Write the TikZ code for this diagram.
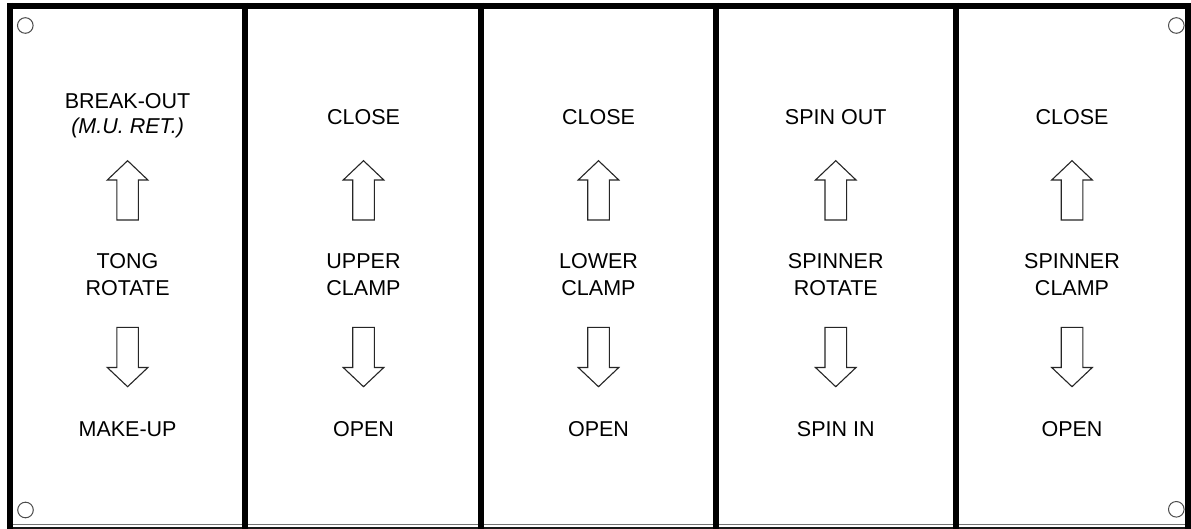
\documentclass[tikz,border=0pt]{standalone}
\usepackage{fontspec}
\setmainfont{Liberation Sans}
\begin{document}
\begin{tikzpicture}[x=1pt,y=-1pt,
  border/.style={line width=6pt,black},
  hole/.style={draw=black!70,line width=1pt},
  blockarrow/.style={draw=black!85,line width=1.1pt,line join=miter,fill=white},
  lbl/.style={font=\fontsize{21.5}{26.7}\selectfont,text=black,anchor=base,inner sep=0pt},
  baseline1/.style={draw=black!55,line width=1.6pt},
  baseline2/.style={draw=black!90,line width=1.8pt}]
\useasboundingbox (0,0) rectangle (1191,529);
\fill[white] (0,0) rectangle (1191,529);
% bottom edge lines
\draw[baseline1] (7.3,524.3) -- (1191,524.3);
\draw[baseline2] (7.3,527.8) -- (1191,527.8);
% frame and dividers
\draw[border] (7.3,6) -- (1191,6);
\foreach \x in {10.3,245,481,716,955.5,1188.3} {
  \draw[border] (\x,3) -- (\x,528.7);
}
% mounting holes
\draw[hole] (25.3,25.5) circle (7.8);
\draw[hole] (25.5,510) circle (7.8);
\draw[hole] (1176.3,25.5) circle (7.8);
\draw[hole] (1176.3,509.3) circle (7.8);
% arrows
\foreach \cx in {127.6,363.5,598.5,835.75,1072} {
  \draw[blockarrow] (\cx,160.7) -- ({\cx+20.3},180) -- ({\cx+10.8},180) -- ({\cx+10.8},220)
    -- ({\cx-10.8},220) -- ({\cx-10.8},180) -- ({\cx-20.3},180) -- cycle;
  \draw[blockarrow] (\cx,386.7) -- ({\cx+20.3},367.5) -- ({\cx+10.8},367.5) -- ({\cx+10.8},327.3)
    -- ({\cx-10.8},327.3) -- ({\cx-10.8},367.5) -- ({\cx-20.3},367.5) -- cycle;
}
% panel 1 top label
\node[lbl] (top1) at (127.6,109) {BREAK-OUT};
\node[lbl] (top1b) at (127.6,134) {\itshape (M.U. RET.)};
% other top labels
\foreach \cx/\t/\n in {363.5/CLOSE/2,598.5/CLOSE/3,835.75/SPIN OUT/4,1072/CLOSE/5} {
  \node[lbl] (top\n) at (\cx,124.3) {\t};
}
% middle and bottom labels
\foreach \cx/\ma/\mb/\b/\n in {127.6/TONG/ROTATE/MAKE-UP/1,363.5/UPPER/CLAMP/OPEN/2,
    598.5/LOWER/CLAMP/OPEN/3,835.75/SPINNER/ROTATE/SPIN IN/4,1072/SPINNER/CLAMP/OPEN/5} {
  \node[lbl] (mida\n) at (\cx,268.3) {\ma};
  \node[lbl] (midb\n) at (\cx,295) {\mb};
  \node[lbl] (bot\n) at (\cx,436) {\b};
}
\end{tikzpicture}
\end{document}
